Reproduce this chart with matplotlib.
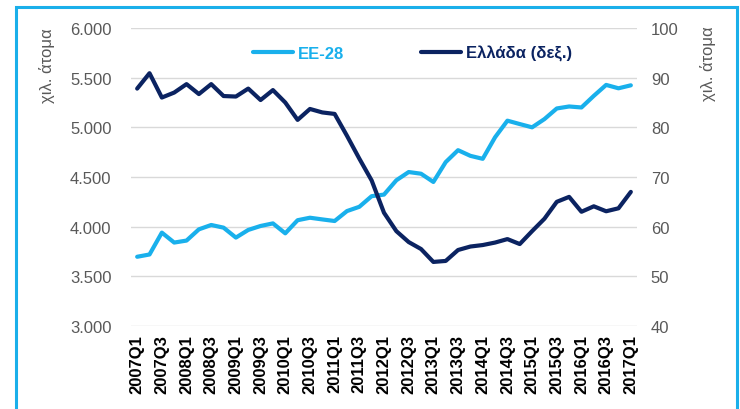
import numpy as np
import matplotlib
matplotlib.use('Agg')
import matplotlib.pyplot as plt
from matplotlib.patches import Rectangle

plt.rcParams['font.family'] = ['Liberation Sans', 'DejaVu Sans']

# quarters 2007Q1 .. 2017Q1
quarters = ['%dQ%d' % (y, q) for y in range(2007, 2018) for q in range(1, 5)][:41]

# EU-28, thousands of persons (left axis)
ee28 = [3697, 3720, 3940, 3840, 3860, 3973, 4017, 3990, 3890, 3967,
        4007, 4033, 3933, 4065, 4090, 4073, 4057, 4157, 4200, 4307,
        4323, 4467, 4550, 4533, 4450, 4650, 4770, 4713, 4683, 4900,
        5067, 5033, 5000, 5083, 5190, 5210, 5200, 5317, 5427, 5393,
        5423]

# Greece, thousands of persons (right axis)
ellada = [87.8, 90.9, 86.0, 87.0, 88.7, 86.7, 88.7, 86.3, 86.2, 87.8,
          85.5, 87.5, 85.0, 81.5, 83.7, 83.0, 82.7, 78.3, 73.7, 69.3,
          62.8, 59.1, 56.9, 55.5, 52.9, 53.1, 55.3, 56.0, 56.3, 56.8,
          57.5, 56.5, 59.1, 61.6, 65.0, 66.0, 63.0, 64.1, 63.1, 63.7,
          67.0]

c_eu = '#19B0EC'
c_gr = '#0B2361'
c_tick = '#595959'

fig = plt.figure(figsize=(7.4, 4.1), dpi=100)
ax = fig.add_axes([131 / 740, 1 - 327 / 410, 506 / 740, 298 / 410])
ax2 = ax.twinx()

x = np.arange(len(quarters))
l1, = ax.plot(x, ee28, color=c_eu, lw=3, solid_joinstyle='round',
              solid_capstyle='round', label='EE-28')
l2, = ax2.plot(x, ellada, color=c_gr, lw=3, solid_joinstyle='round',
               solid_capstyle='round', label='Ελλάδα (δεξ.)')

ax.set_xlim(-0.5, len(quarters) - 0.5)
ax.set_ylim(3000, 6000)
ax2.set_ylim(40, 100)
ax.set_yticks(np.arange(3000, 6001, 500))
ax.set_yticklabels(['%d.%03d' % (v // 1000, v % 1000) for v in range(3000, 6001, 500)])
ax2.set_yticks(np.arange(40, 101, 10))

ax.set_xticks(x[::2])
ax.set_xticklabels(quarters[::2], rotation=90, fontsize=12, fontweight='bold',
                   color='black')

ax.grid(axis='y', color='#D9D9D9', lw=1)
ax.set_axisbelow(True)
for a in (ax, ax2):
    for s in a.spines.values():
        s.set_visible(False)
    a.tick_params(length=0)
ax.tick_params(axis='y', labelsize=12, labelcolor=c_tick, pad=14)
ax.tick_params(axis='x', pad=6)
ax2.tick_params(axis='y', labelsize=12, labelcolor=c_tick, pad=10)

fig.text(47 / 740, 1 - 66 / 410, 'χιλ. άτομα', rotation=90, fontsize=12,
         color=c_tick, ha='center', va='center')
fig.text(708 / 740, 1 - 64 / 410, 'χιλ. άτομα', rotation=90, fontsize=12,
         color=c_tick, ha='center', va='center')

leg = ax.legend(handles=[l1, l2], loc='center', bbox_to_anchor=(0.557, 0.915),
                ncol=2, frameon=False, fontsize=12, handlelength=2.4,
                handletextpad=0.3, columnspacing=4.6,
                prop={'weight': 'bold', 'size': 12})
for t, c in zip(leg.get_texts(), [c_eu, c_gr]):
    t.set_color(c)

# outer frame
fig.patches.append(Rectangle((16 / 740, -0.05), 721 / 740, 1.05 - 8 / 410,
                             transform=fig.transFigure, fill=False,
                             edgecolor='#1AAFEA', lw=2.2))

fig.savefig('out.png', dpi=100)
